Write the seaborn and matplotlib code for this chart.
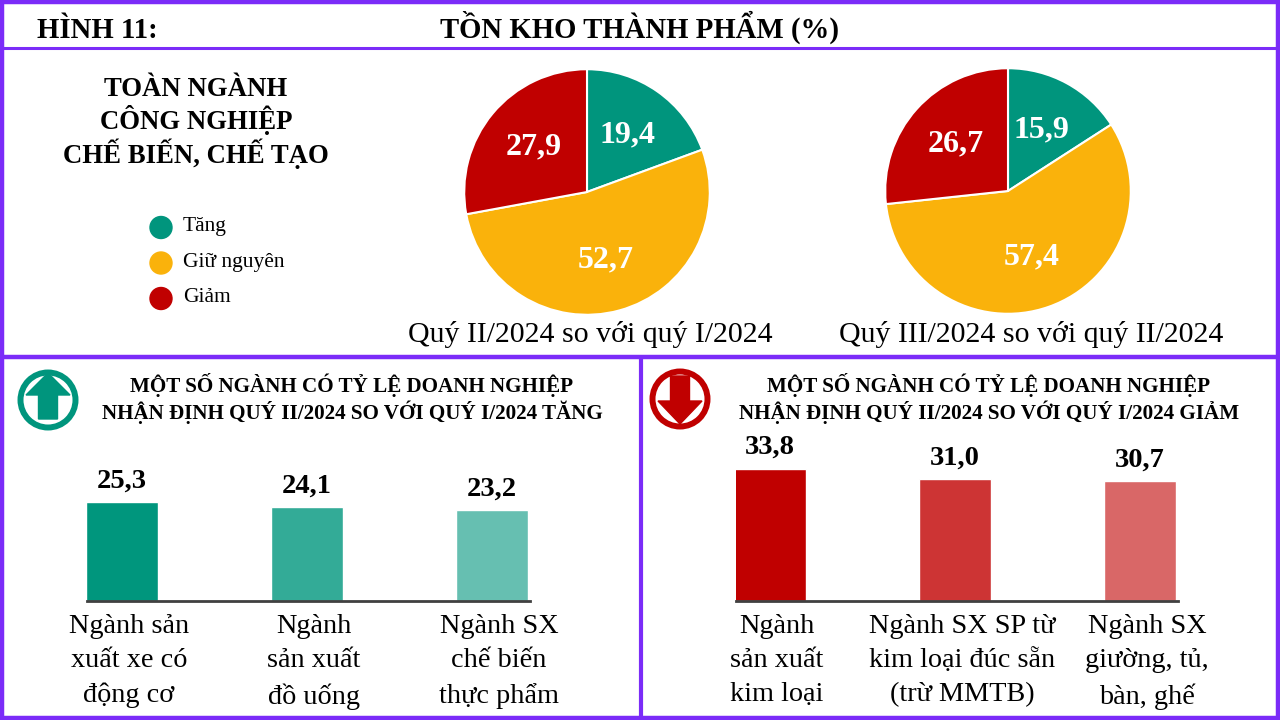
import matplotlib
matplotlib.use("Agg")
import matplotlib.pyplot as plt
import matplotlib.transforms as mtransforms
from matplotlib.patches import Circle, Polygon, Rectangle
import seaborn as sns

# ---- data ----
pie_labels = ["Tăng", "Giữ nguyên", "Giảm"]
pie_q2_vs_q1 = [19.4, 52.7, 27.9]
pie_q3_vs_q2 = [15.9, 57.4, 26.7]
pie_titles = ["Quý II/2024 so với quý I/2024", "Quý III/2024 so với quý II/2024"]

up_categories = ["Ngành sản\nxuất xe có\nđộng cơ", "Ngành\nsản xuất\nđồ uống", "Ngành SX\nchế biến\nthực phẩm"]
up_values = [25.3, 24.1, 23.2]

down_categories = ["Ngành\nsản xuất\nkim loại", "Ngành SX SP từ\nkim loại đúc sẵn\n(trừ MMTB)", "Ngành SX\ngiường, tủ,\nbàn, ghế"]
down_values = [33.8, 31.0, 30.7]

# ---- colours ----
PURPLE = "#7B2CF8"
TEAL = "#00957D"
GOLD = "#FAB20B"
RED = "#C00000"
pie_colors = [TEAL, GOLD, RED]
up_colors = ["#00967D", "#33AB97", "#66BFB1"]
down_colors = ["#C00000", "#CD3434", "#D96767"]

sns.set_theme(style="white")
plt.rcParams["font.family"] = ["Liberation Serif", "DejaVu Serif"]
plt.rcParams["text.color"] = "black"

W, H = 1280, 720
fig = plt.figure(figsize=(W / 100, H / 100), dpi=100)
fig.patch.set_facecolor("white")


def px_axes(left, top, width, height):
    ax = fig.add_axes([left / W, 1 - (top + height) / H, width / W, height / H])
    ax.set_facecolor("none")
    return ax


def comma(v):
    return f"{v:.1f}".replace(".", ",")


# background layer for frame, headings, legend and icons
bg = px_axes(0, 0, W, H)
bg.set_xlim(0, W)
bg.set_ylim(H, 0)
bg.axis("off")

bg.add_patch(Rectangle((2, 1.5), W - 4, H - 3.5, fill=False, edgecolor=PURPLE, linewidth=3.2))
bg.plot([0, W], [48, 48], color=PURPLE, lw=2.2)
bg.plot([0, W], [357, 357], color=PURPLE, lw=3.2)
bg.plot([641, 641], [357, H], color=PURPLE, lw=3)

bg.text(37, 37.5, "HÌNH 11:", fontsize=20.7, fontweight="bold", ha="left", va="baseline")
bg.text(640, 37.5, "TỒN KHO THÀNH PHẨM (%)", fontsize=20.7, fontweight="bold", ha="center", va="baseline")

bg.text(196, 123, "TOÀN NGÀNH\nCÔNG NGHIỆP\nCHẾ BIẾN, CHẾ TẠO", fontsize=19.3, fontweight="bold",
        ha="center", va="center", linespacing=1.13)

for i, (lab, col) in enumerate(zip(pie_labels, pie_colors)):
    y = 227.5 + i * 35.5
    bg.add_patch(Circle((161, y), 11, color=col))
    bg.text(183, y - 1, lab, fontsize=15.5, ha="left", va="center")

# pies
for (left, top), vals, title, cx in zip([(463, 68), (884, 67)], [pie_q2_vs_q1, pie_q3_vs_q2],
                                       pie_titles, [590, 1031]):
    ax = px_axes(left, top, 248, 248)
    ax.pie(vals, colors=pie_colors, startangle=90, counterclock=False, radius=1,
           autopct=lambda p: comma(p), pctdistance=0.57,
           wedgeprops=dict(edgecolor="white", linewidth=1.5),
           textprops=dict(color="white", fontsize=23, fontweight="bold"))
    ax.set_xlim(-1.01, 1.01)
    ax.set_ylim(-1.01, 1.01)
    bg.text(cx, 334, title, fontsize=21.5, ha="center", va="center")

# section headings
bg.text(352, 398.5, "MỘT SỐ NGÀNH CÓ TỶ LỆ DOANH NGHIỆP\nNHẬN ĐỊNH QUÝ II/2024 SO VỚI QUÝ I/2024 TĂNG",
        fontsize=15.2, fontweight="bold", ha="center", va="center", linespacing=1.15)
bg.text(989, 398.5, "MỘT SỐ NGÀNH CÓ TỶ LỆ DOANH NGHIỆP\nNHẬN ĐỊNH QUÝ II/2024 SO VỚI QUÝ I/2024 GIẢM",
        fontsize=15.2, fontweight="bold", ha="center", va="center", linespacing=1.15)

# icons
bg.add_patch(Circle((48, 400), 27.5, facecolor="white", edgecolor=TEAL, linewidth=4.3))
bg.add_patch(Polygon([(48, 373), (70, 395), (57.5, 395), (57.5, 419), (38.5, 419), (38.5, 395), (26, 395)],
                     closed=True, color=TEAL))
bg.add_patch(Circle((680, 399), 27.5, facecolor="white", edgecolor=RED, linewidth=4.3))
bg.add_patch(Polygon([(680, 424), (702, 401), (689.5, 401), (689.5, 376), (670.5, 376), (670.5, 401), (658, 401)],
                     closed=True, color=RED))

# bars
PX_PER_UNIT = 3.92
YMAX = 40
label_shift = mtransforms.ScaledTranslation(7 / 100, 0, fig.dpi_scale_trans)

for left, width, first_center, cats, vals, cols in [
        (87, 443, 122, up_categories, up_values, up_colors),
        (736, 442, 770, down_categories, down_values, down_colors)]:
    ax = px_axes(left, 601 - PX_PER_UNIT * YMAX, width, PX_PER_UNIT * YMAX)
    sns.barplot(x=cats, y=vals, hue=cats, palette=cols, legend=False, width=0.384,
                saturation=1, ax=ax)
    for container, v in zip(ax.containers, vals):
        ax.bar_label(container, labels=[comma(v)], padding=6, fontsize=20.5, fontweight="bold",
                     color="black")
    ax.set_xlim(-(first_center - left) / 185, (left + width - first_center) / 185)
    ax.set_ylim(0, YMAX)
    ax.set_yticks([])
    ax.set_ylabel("")
    for s in ["top", "right", "left"]:
        ax.spines[s].set_visible(False)
    ax.spines["bottom"].set_color("#404040")
    ax.spines["bottom"].set_linewidth(2)
    ax.tick_params(axis="x", length=0, pad=9.5, labelsize=20.3, labelcolor="black")
    for lbl in ax.get_xticklabels():
        lbl.set_linespacing(1.48)
        lbl.set_transform(lbl.get_transform() + label_shift)

fig.savefig("out.png", dpi=100)
